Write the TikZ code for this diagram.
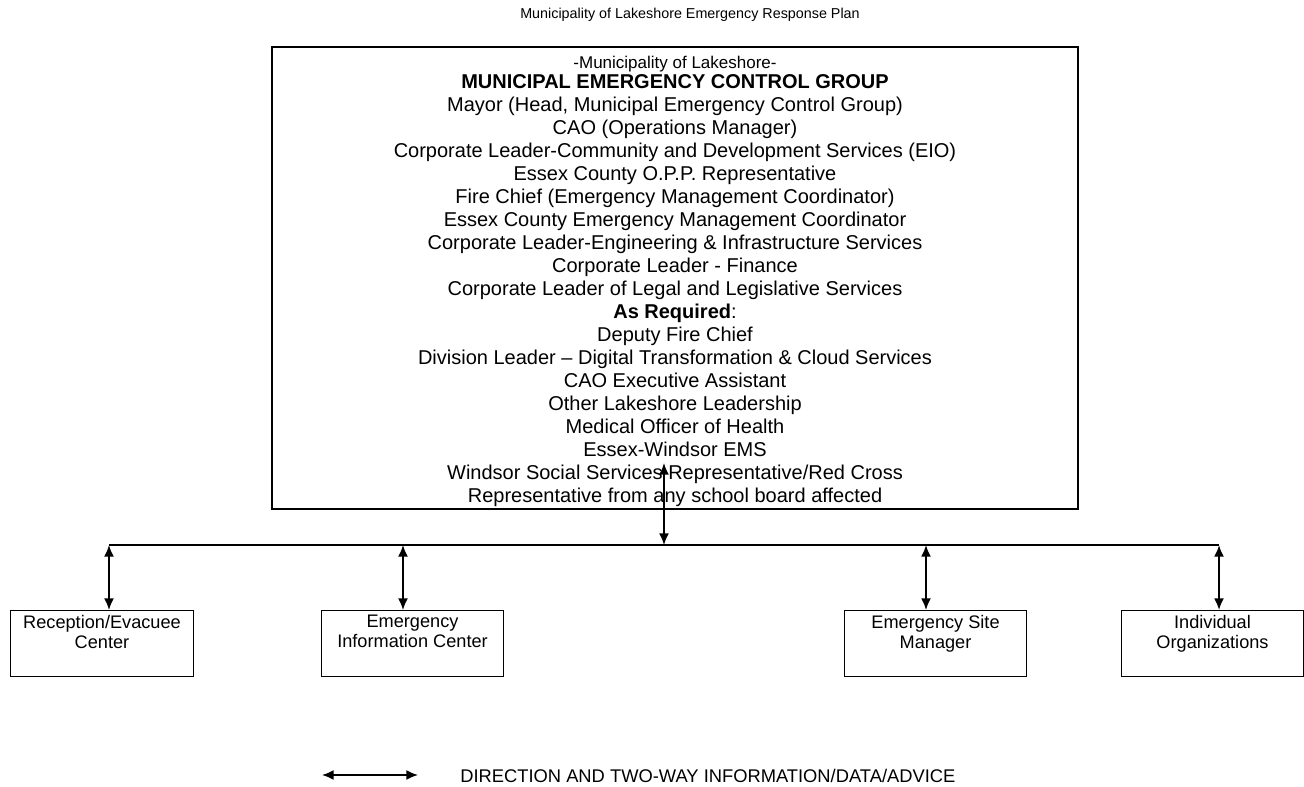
\documentclass[tikz,border=0pt]{standalone}
\usepackage{fontspec}
\setmainfont{Liberation Sans}
\usetikzlibrary{arrows.meta}

\begin{document}
\begin{tikzpicture}[x=0.6pt,y=-0.6pt,
    link/.style={line width=1.1pt,{Latex[length=7pt,width=6pt]}-{Latex[length=7pt,width=6pt]}},
    unit/.style={draw,line width=0.8pt,minimum width=109.5pt,minimum height=39.6pt,anchor=north},
    unittext/.style={anchor=north,align=center,inner sep=3pt,font=\fontsize{10.9}{12}\selectfont}]
          \useasboundingbox (0,0) rectangle (1304,786);
          \node (header) at (690,15) {\fontsize{8.6}{10}\selectfont Municipality of Lakeshore Emergency Response Plan};

          % control group box
          \node[draw,line width=0.9pt,minimum width=483.6pt,minimum height=277.2pt,inner ysep=1pt,align=center,
            font=\fontsize{12}{13.8}\selectfont] (mecg) at (675,278)
            {\rule{0pt}{11.4pt}{\fontsize{10.2}{12}\selectfont -Municipality of Lakeshore-}\\[-1.6pt]
             \textbf{MUNICIPAL EMERGENCY CONTROL GROUP}\\
             Mayor (Head, Municipal Emergency Control Group)\\
             CAO (Operations Manager)\\
             Corporate Leader-Community and Development Services (EIO)\\
             Essex County O.P.P. Representative\\
             Fire Chief (Emergency Management Coordinator)\\
             Essex County Emergency Management Coordinator\\
             Corporate Leader-Engineering \& Infrastructure Services\\
             Corporate Leader - Finance\\
             Corporate Leader of Legal and Legislative Services\\
             \textbf{As Required}:\\
             Deputy Fire Chief\\
             Division Leader -- Digital Transformation \& Cloud Services\\
             CAO Executive Assistant\\
             Other Lakeshore Leadership\\
             Medical Officer of Health\\
             Essex-Windsor EMS\\
             Windsor Social Services Representative/Red Cross\\
             Representative from any school board affected};

          % bus line
          \coordinate (top) at (664,463);
          \coordinate (hub) at (664,545);
          \coordinate (b1) at (109,545);
          \coordinate (b2) at (403,545);
          \coordinate (b3) at (926,545);
          \coordinate (b4) at (1219,545);
          \draw[line width=1.1pt] (b1) -- (b4);
          \draw[link] (hub) -- (top);

          % field units
          \node[unit] (rec) at (102,610) {};
          \node[unit] (eic) at (412.5,610) {};
          \node[unit] (esm) at (935.5,610) {};
          \node[unit] (org) at (1212.5,610) {};
          \node[unittext] (rect) at (rec.north) {Reception/Evacuee\\Center};
          \node[unittext] (eict) at (eic.north) {Emergency\\Information Center};
          \node[unittext] (esmt) at (esm.north) {Emergency Site\\Manager};
          \node[unittext] (orgt) at (org.north) {Individual\\Organizations};
          \draw[link] (b1) -- (b1 |- rec.north);
          \draw[link] (b2) -- (b2 |- eic.north);
          \draw[link] (b3) -- (b3 |- esm.north);
          \draw[link] (b4) -- (b4 |- org.north);

          % legend
          \coordinate (kl) at (322,775);
          \coordinate (kr) at (418,775);
          \draw[link] (kl) -- (kr);
          \node[anchor=west,inner sep=0pt,font=\fontsize{11}{13}\selectfont] (key) at (460,776)
            {DIRECTION AND TWO-WAY INFORMATION/DATA/ADVICE};
        \end{tikzpicture}
\end{document}
